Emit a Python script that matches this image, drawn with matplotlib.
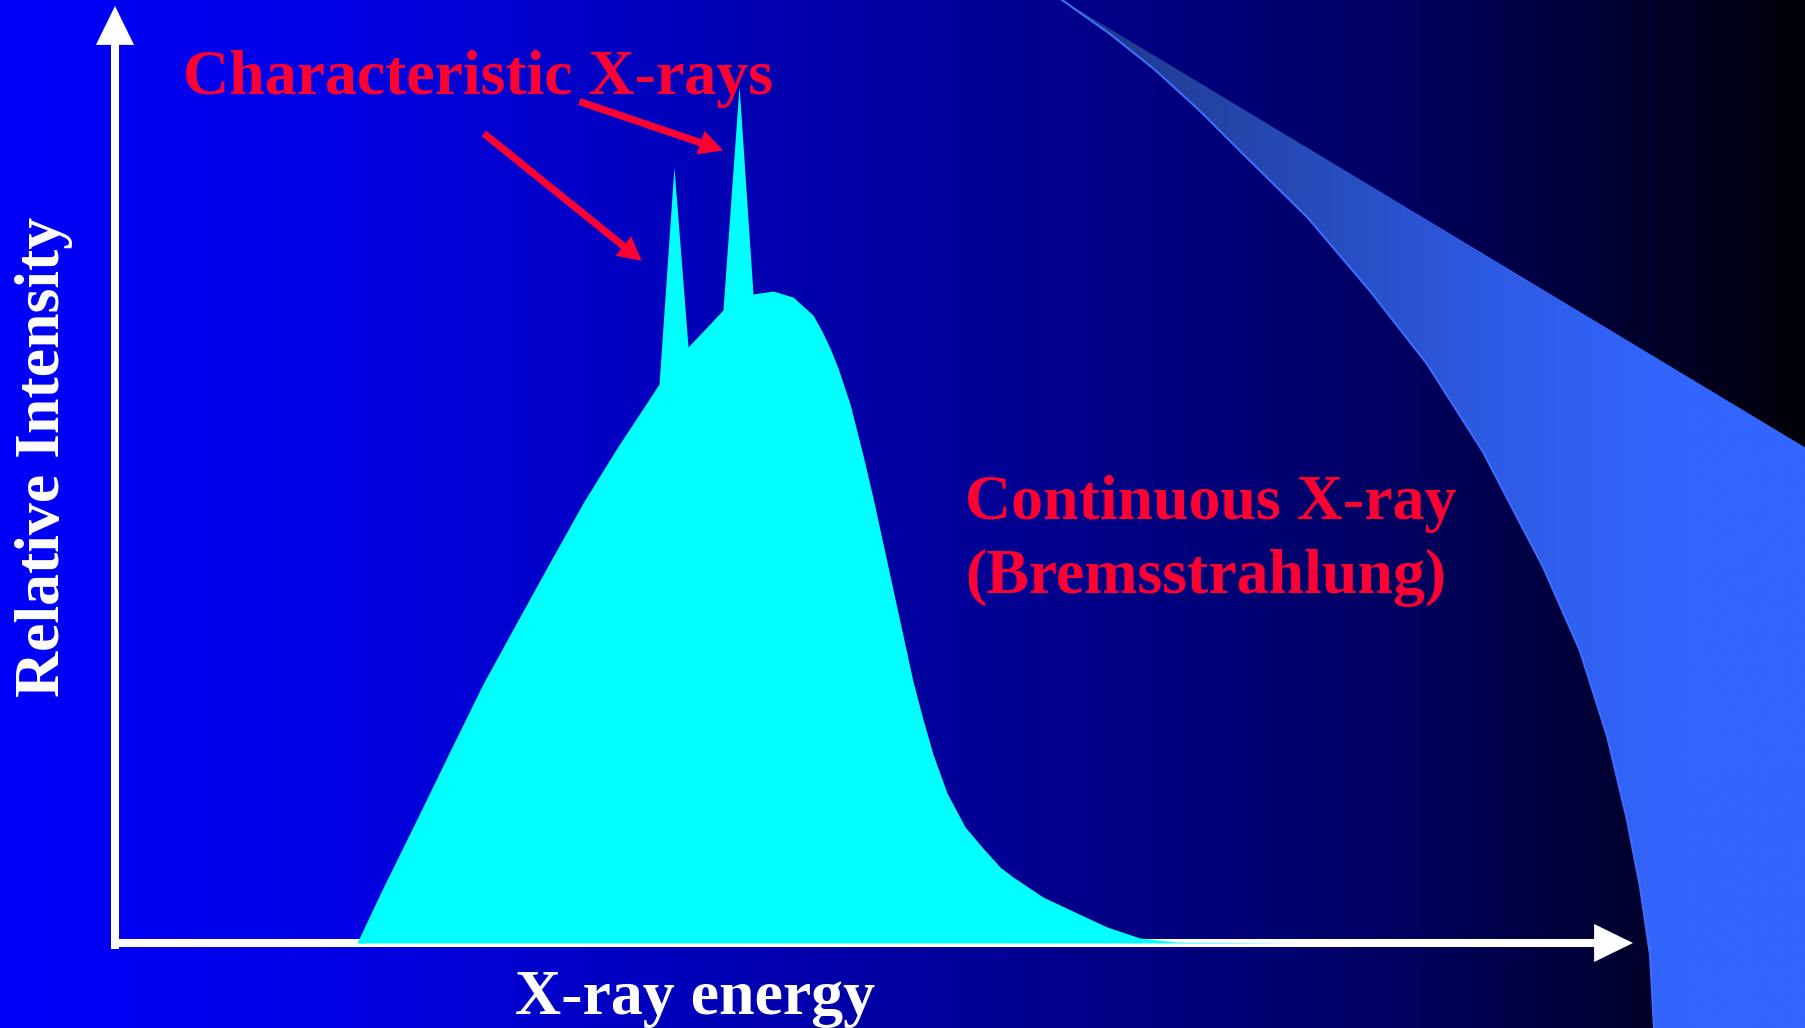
import numpy as np
import matplotlib.pyplot as plt
from matplotlib.patches import Polygon

W, H = 1806, 1028

# spectrum (arbitrary units, 0-100 on both axes)
energy = [15.94, 17.65, 19.89, 22.07, 24.24, 26.48, 28.66, 30.83, 33.07, 35.24,
          35.84, 36.82, 37.75, 39.0, 40.05, 41.11, 42.03, 43.35, 44.66, 45.98,
          46.57, 47.1, 47.63, 48.42, 49.28, 49.93, 50.59, 51.25, 51.91, 52.57,
          53.23, 53.89, 54.81, 56.0, 57.11, 58.3, 59.16, 61.13, 63.37, 65.35,
          67.52, 69.96, 78.06]
intensity = [0.0, 5.87, 13.23, 20.49, 27.64, 34.26, 40.66, 46.96, 52.83, 58.17,
             59.66, 82.82, 63.61, 65.74, 67.56, 91.46, 69.26, 69.58, 68.94, 67.02,
             65.31, 63.5, 61.37, 57.52, 52.03, 47.55, 42.64, 37.73, 32.82, 27.91,
             23.85, 20.12, 16.01, 12.38, 10.25, 8.11, 7.04, 4.91, 3.20, 1.71,
             0.53, 0.1, 0.0]

# red pointers to the two characteristic lines (tail E, tail I) -> (tip E, tip I)
pointer_tail = [(24.3, 86.4), (30.6, 89.8)]
pointer_tip = [(34.7, 72.8), (40.05, 84.6)]

# decorative ribbon on the right of the slide (pixels)
ribbon_x = [1062, 1110, 1154, 1200, 1242, 1308, 1370, 1427, 1483, 1508, 1543,
            1580, 1607, 1627, 1640, 1650, 1654]
ribbon_y = [0, 34, 69, 111, 153, 218, 291, 364, 452, 500, 567, 651, 736, 820,
            887, 955, 1028]

red = '#FF0033'
font = dict(family='Liberation Serif', weight='bold', fontsize=46)


def fx(px):
    return px / W


def fy(py):
    return 1 - py / H


fig = plt.figure(figsize=(W / 100, H / 100), dpi=100)

# background gradient
bg = fig.add_axes([0, 0, 1, 1], zorder=-1)
bg.set_xlim(0, W)
bg.set_ylim(H, 0)
bg.axis('off')
t = np.linspace(0, 1, 600)
blue = np.interp(t, [0, 0.17, 0.5, 0.78, 0.92, 1.0],
                 [250, 232, 160, 96, 40, 8]) / 255
grad = np.zeros((2, len(t), 3))
grad[:, :, 2] = blue
bg.imshow(grad, extent=[0, W, H, 0], aspect='auto', interpolation='bilinear')

# ribbon
xs = t * W
rib = np.zeros((2, len(t), 3))
rib[:, :, 0] = np.interp(xs, [1062, 1300, 1500, 1680], [0.12, 0.15, 0.18, 0.20])
rib[:, :, 1] = np.interp(xs, [1062, 1300, 1500, 1680], [0.22, 0.29, 0.36, 0.40])
rib[:, :, 2] = np.interp(xs, [1062, 1300, 1500, 1680], [0.52, 0.72, 0.90, 1.00])
verts = list(zip(ribbon_x, ribbon_y)) + [(W, H), (W, 448)]
poly = Polygon(verts, closed=True, facecolor='none', edgecolor='none')
bg.add_patch(poly)
im = bg.imshow(rib, extent=[0, W, H, 0], aspect='auto', interpolation='bilinear')
im.set_clip_path(poly)
bg.plot(ribbon_x, ribbon_y, color='#3D6DFF', lw=1.5)

# spectrum axes
ax = fig.add_axes([fx(115), fy(943), (1633 - 115) / W, (943 - 6) / H])
ax.patch.set_alpha(0)
ax.set_xlim(0, 100)
ax.set_ylim(0, 100)
ax.axis('off')

ax.fill_between(energy, intensity, color='#00FFFF', lw=0, zorder=3)

axis_style = 'simple,head_length=28,head_width=27.4,tail_width=5.8'
ax.annotate('', xy=(1, 0), xytext=(-0.0026, 0), xycoords='axes fraction',
            arrowprops=dict(arrowstyle=axis_style, mutation_scale=1,
                            color='white', lw=0, shrinkA=0, shrinkB=0), zorder=2)
ax.annotate('', xy=(0, 1), xytext=(0, -0.0064), xycoords='axes fraction',
            arrowprops=dict(arrowstyle=axis_style, mutation_scale=1,
                            color='white', lw=0, shrinkA=0, shrinkB=0), zorder=2)

ptr_style = 'simple,head_length=17,head_width=18,tail_width=5.2'
for tail, tip in zip(pointer_tail, pointer_tip):
    ax.annotate('', xy=tip, xytext=tail,
                arrowprops=dict(arrowstyle=ptr_style, mutation_scale=1,
                                color=red, lw=0, shrinkA=0, shrinkB=0))

fig.text(fx(478), fy(94), 'Characteristic X-rays', color=red, ha='center',
         va='baseline', **font)
fig.text(fx(965), fy(519), 'Continuous X-ray', color=red, ha='left',
         va='baseline', **font)
fig.text(fx(965), fy(593), '(Bremsstrahlung)', color=red, ha='left',
         va='baseline', **font)
fig.text(fx(695), fy(1014), 'X-ray energy', color='white', ha='center',
         va='baseline', **font)
fig.text(fx(59), fy(457), 'Relative Intensity', color='white', ha='center',
         va='baseline', rotation=90, rotation_mode='anchor', **font)

fig.savefig('out.png', dpi=100)
